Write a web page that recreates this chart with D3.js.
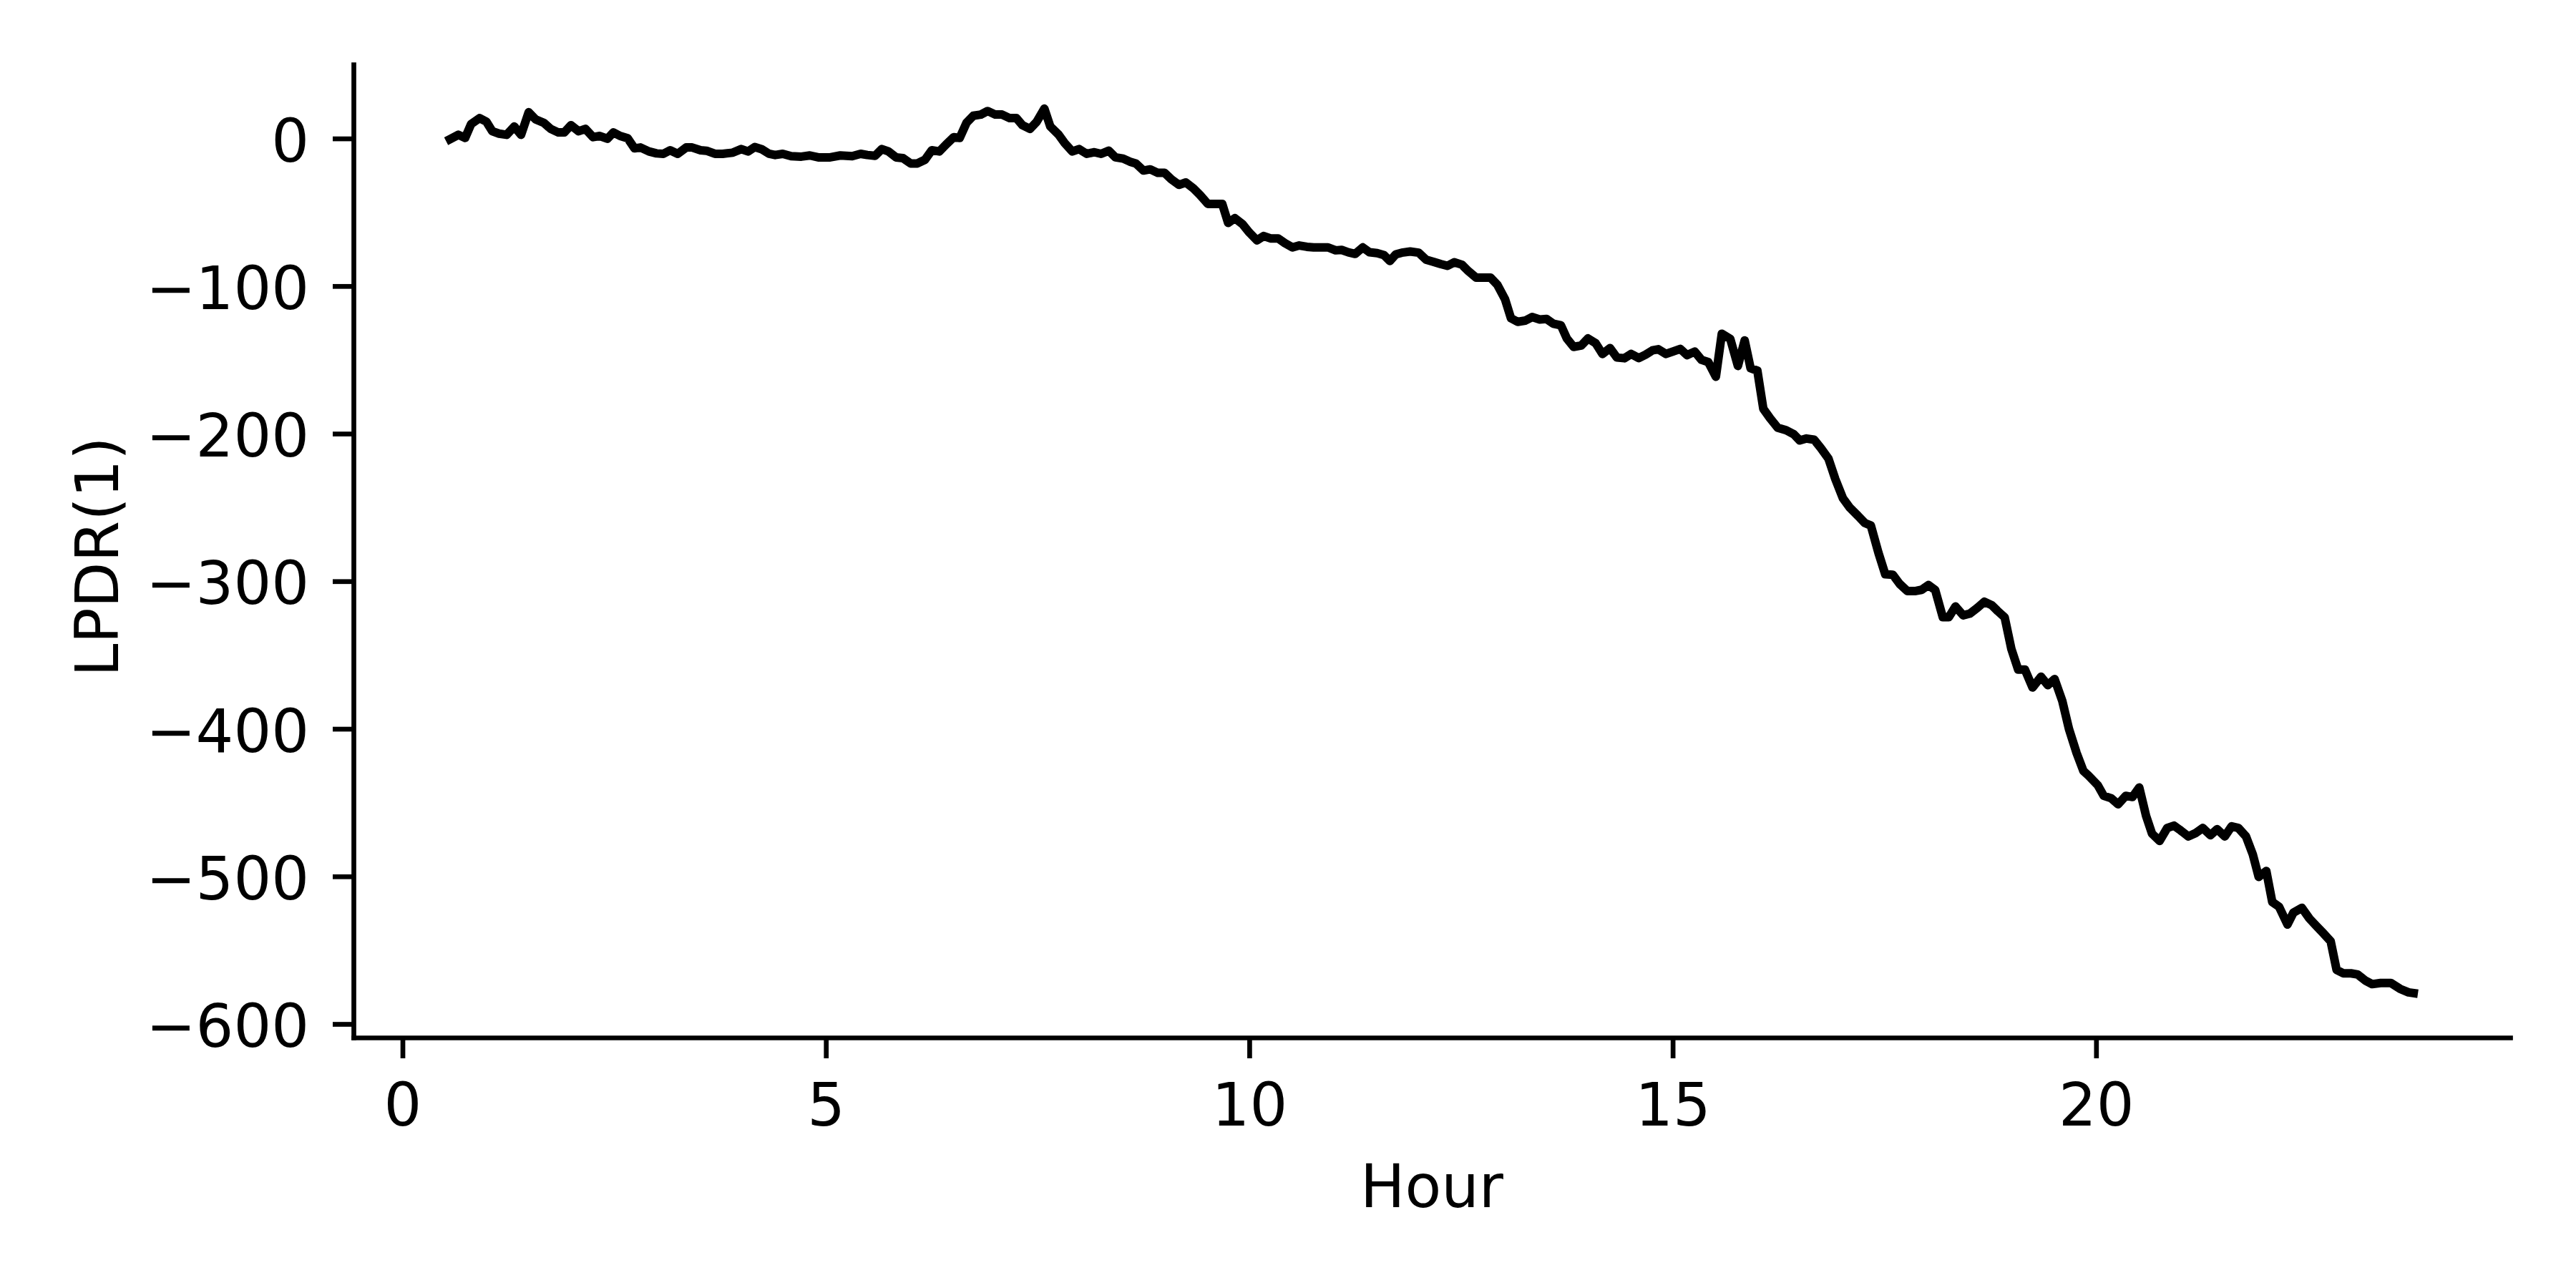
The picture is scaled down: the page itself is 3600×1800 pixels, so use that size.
<!DOCTYPE html>
<html>
<head>
<meta charset="utf-8">
<script src="https://cdn.jsdelivr.net/npm/d3@7"></script>
<style>
  html, body { margin: 0; padding: 0; background: #fff; }
  svg { display: block; }
  text { font-family: "DejaVu Sans", sans-serif; fill: #000; }
</style>
</head>
<body>
<svg id="chart" width="3600" height="1800"></svg>
<script>
// ---- data ----
const hours = [
  0.56,0.66,0.74,0.81,0.91,0.99,1.06,1.14,1.23,1.32,1.40,1.49,1.57,1.67,1.75,1.84,1.91,1.99,
  2.08,2.16,2.25,2.33,2.42,2.49,2.57,2.66,2.74,2.81,2.91,3.00,3.08,3.16,3.25,3.35,3.42,3.52,
  3.59,3.69,3.78,3.90,4.00,4.08,4.16,4.24,4.33,4.40,4.49,4.59,4.71,4.81,4.91,5.05,5.17,5.31,
  5.41,5.49,5.58,5.66,5.74,5.83,5.91,6.00,6.08,6.17,6.25,6.34,6.42,6.51,6.58,6.66,6.74,6.83,
  6.91,7.00,7.08,7.17,7.25,7.32,7.41,7.49,7.58,7.65,7.75,7.82,7.91,7.99,8.08,8.17,8.25,8.34,
  8.42,8.51,8.59,8.66,8.75,8.83,8.92,9.00,9.08,9.17,9.25,9.34,9.42,9.51,9.59,9.68,9.75,9.83,
  9.92,10.00,10.09,10.17,10.25,10.34,10.42,10.51,10.59,10.68,10.76,10.85,10.93,11.02,11.09,11.17,
  11.25,11.34,11.42,11.51,11.59,11.66,11.73,11.80,11.90,12.00,12.09,12.17,12.26,12.34,12.42,12.51,
  12.59,12.68,12.76,12.85,12.93,13.02,13.09,13.17,13.26,13.34,13.43,13.51,13.59,13.68,13.75,13.83,
  13.92,14.00,14.09,14.17,14.26,14.34,14.43,14.51,14.60,14.68,14.76,14.83,14.92,15.00,15.09,15.17,
  15.26,15.34,15.42,15.51,15.58,15.68,15.77,15.85,15.92,16.00,16.07,16.15,16.24,16.34,16.43,16.50,
  16.58,16.67,16.75,16.84,16.92,17.01,17.09,17.19,17.27,17.34,17.43,17.51,17.60,17.68,17.77,17.87,
  17.94,18.02,18.10,18.19,18.26,18.34,18.43,18.51,18.60,18.68,18.77,18.84,18.92,19.00,19.08,19.16,
  19.25,19.35,19.43,19.51,19.60,19.68,19.77,19.85,19.91,20.02,20.09,20.18,20.26,20.35,20.43,20.51,
  20.59,20.66,20.75,20.84,20.92,21.00,21.09,21.18,21.26,21.35,21.43,21.52,21.60,21.68,21.77,21.85,
  21.92,22.01,22.08,22.16,22.26,22.33,22.43,22.52,22.60,22.68,22.77,22.84,22.92,23.01,23.09,23.18,
  23.26,23.36,23.48,23.59,23.69,23.75
];
const lpdr = [
  -0.5,2.5,0.4,9.8,13.8,11.4,4.9,3.3,2.5,8.1,2.5,17.8,13.0,10.6,6.5,4.1,4.1,9.0,
  4.9,6.5,0.9,1.7,-0.2,4.1,1.7,0.1,-6.7,-6.1,-8.8,-10.1,-10.4,-8.0,-10.4,-6.1,-6.1,-8.0,
  -8.3,-10.4,-10.4,-9.6,-7.2,-8.8,-5.8,-7.2,-10.4,-11.2,-10.4,-12.0,-12.3,-11.5,-12.8,-12.8,-11.5,-12.0,
  -10.4,-11.2,-11.7,-7.2,-8.8,-12.8,-13.3,-16.9,-16.9,-14.4,-8.0,-8.8,-4.0,0.9,0.4,10.6,15.4,16.2,
  18.6,16.2,16.2,13.8,13.8,9.0,6.5,11.4,20.2,8.1,2.5,-3.1,-8.8,-7.2,-10.4,-9.3,-10.4,-8.3,
  -12.8,-13.6,-15.7,-16.9,-21.7,-20.9,-23.3,-23.3,-27.7,-31.4,-29.8,-33.8,-38.4,-44.3,-44.3,-44.3,-57.2,-54.0,
  -58.0,-63.7,-69.0,-66.1,-67.7,-67.7,-70.9,-73.8,-72.5,-73.4,-73.8,-73.8,-73.8,-75.8,-75.5,-77.1,
  -78.2,-73.8,-77.1,-77.7,-79.0,-83.0,-78.5,-77.4,-76.6,-77.4,-82.2,-83.5,-85.1,-86.3,-83.9,-85.5,
  -90.0,-94.3,-94.3,-94.3,-99.2,-108.9,-121.8,-124.2,-123.4,-121.0,-122.6,-122.3,-125.5,-126.6,-135.5,-141.2,
  -140.3,-135.5,-138.7,-146.0,-142.0,-148.4,-148.9,-146.0,-148.8,-146.5,-143.6,-142.8,-146.0,-144.4,-142.6,-146.8,
  -144.4,-150.0,-151.5,-161.4,-132.3,-135.8,-154.1,-136.8,-155.7,-157.3,-183.1,-189.6,-196.0,-197.7,-200.4,-204.6,
  -203.3,-204.1,-209.8,-217.0,-230.7,-243.7,-250.1,-255.8,-260.6,-262.2,-280.8,-295.3,-295.6,-301.8,-306.6,-306.6,
  -305.8,-302.6,-306.0,-324.4,-324.4,-317.1,-323.1,-321.9,-317.9,-313.9,-316.3,-320.3,-324.4,-346.0,-359.9,-359.9,
  -372.0,-364.7,-370.4,-366.3,-380.9,-400.2,-416.4,-428.5,-431.7,-438.2,-445.4,-447.1,-451.1,-445.4,-446.2,-439.8,
  -459.0,-471.0,-476.0,-467.2,-465.6,-468.9,-472.9,-470.5,-467.2,-472.1,-468.0,-472.9,-466.1,-467.2,-472.9,-485.0,
  -500.3,-496.3,-517.3,-520.5,-532.6,-524.6,-521.3,-528.6,-533.5,-538.3,-543.9,-563.3,-565.7,-565.7,-566.5,-570.6,
  -573.0,-572.2,-572.2,-576.2,-578.6,-579.1
];
const xTicks = [0, 5, 10, 15, 20];
const yTicks = [0, -100, -200, -300, -400, -500, -600];
const xLabel = "Hour";
const yLabel = "LPDR(1)";

(function () {
  // ---- layout ----
  const mLeft = 494, mRight = 3508, mTop = 90, mBottom = 1450;
  const FS = 83;

  const svg = d3.select("#chart");
  svg.append("rect").attr("width", 3600).attr("height", 1800).attr("fill", "#fff");

  const x = d3.scaleLinear().domain([-0.579, 24.89]).range([mLeft, mRight]);
  const y = d3.scaleLinear().domain([-609.2, 50.2]).range([mBottom, mTop]);

  const data = hours.map((h, i) => [h, lpdr[i]]);

  // line
  svg.append("path")
    .datum(data)
    .attr("fill", "none")
    .attr("stroke", "#000")
    .attr("stroke-width", 12)
    .attr("stroke-linejoin", "round")
    .attr("stroke-linecap", "square")
    .attr("d", d3.line().x(d => x(d[0])).y(d => y(d[1])));

  // x axis
  const gx = svg.append("g")
    .attr("transform", `translate(0,${mBottom})`)
    .call(d3.axisBottom(x).tickValues(xTicks).tickFormat(d3.format("d"))
          .tickSize(29).tickSizeOuter(0).tickPadding(35));
  // y axis
  const gy = svg.append("g")
    .attr("transform", `translate(${mLeft},0)`)
    .call(d3.axisLeft(y).tickValues(yTicks).tickFormat(d3.format("d"))
          .tickSize(29).tickSizeOuter(0).tickPadding(33));

  [gx, gy].forEach(g => {
    g.select(".domain").attr("stroke", "#000").attr("stroke-width", 6.7).attr("stroke-linecap", "square");
    g.selectAll(".tick line").attr("stroke", "#000").attr("stroke-width", 6.7);
    g.selectAll(".tick text")
      .attr("font-family", "DejaVu Sans")
      .attr("font-size", FS)
      .attr("fill", "#000");
  });
  gy.selectAll(".tick text").attr("dy", "0.38em");

  // axis labels
  svg.append("text")
    .attr("x", (mLeft + mRight) / 2)
    .attr("y", 1687)
    .attr("text-anchor", "middle")
    .attr("font-size", FS)
    .text(xLabel);

  svg.append("text")
    .attr("transform", `translate(165,778) rotate(-90)`)
    .attr("text-anchor", "middle")
    .attr("font-size", FS)
    .text(yLabel);
})();
</script>
</body>
</html>
